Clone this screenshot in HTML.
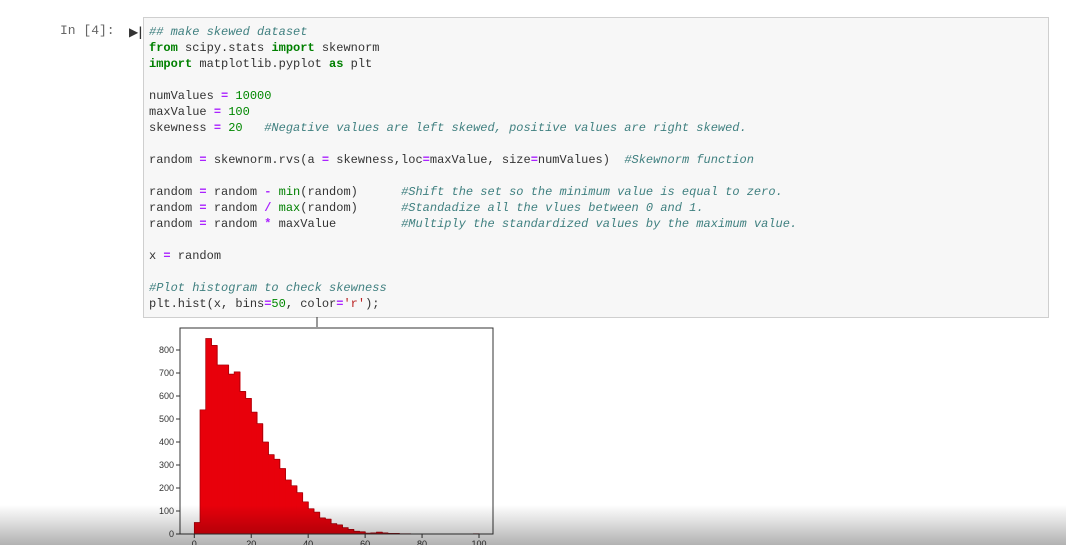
<!DOCTYPE html>
<html><head><meta charset="utf-8"><style>
body{margin:0;width:1066px;height:545px;overflow:hidden;background:#fff;font-family:"Liberation Sans",sans-serif;position:relative}
.prompt{position:absolute;left:60px;top:23px;font:13px "Liberation Mono",monospace;color:#666}
.cell{position:absolute;left:143px;top:17px;width:904px;height:299px;background:#f7f7f7;border:1px solid #cfcfcf}
pre{margin:0;position:absolute;left:5px;top:6px;font:12px/16px "Liberation Mono",monospace;color:#333}
.k{color:#008000;font-weight:bold}.n{color:#080}.c{color:#408080;font-style:italic}.o{color:#a2f;font-weight:bold}.b{color:#008000}.s{color:#ba2121}
.run{position:absolute;left:129px;top:25px;font:bold 12px "DejaVu Sans",sans-serif;color:#333}
.shade{position:absolute;left:0;top:505px;width:1066px;height:40px;background:linear-gradient(rgba(0,0,0,0),rgba(0,0,0,0.3));pointer-events:none}
</style></head><body>
<div class="prompt">In [4]:</div>
<div class="run">▶|</div>
<div class="cell"><pre><span class="c">## make skewed dataset</span>
<span class="k">from</span> scipy.stats <span class="k">import</span> skewnorm
<span class="k">import</span> matplotlib.pyplot <span class="k">as</span> plt

numValues <span class="o">=</span> <span class="n">10000</span>
maxValue <span class="o">=</span> <span class="n">100</span>
skewness <span class="o">=</span> <span class="n">20</span>   <span class="c">#Negative values are left skewed, positive values are right skewed.</span>

random <span class="o">=</span> skewnorm.rvs(a <span class="o">=</span> skewness,loc<span class="o">=</span>maxValue, size<span class="o">=</span>numValues)  <span class="c">#Skewnorm function</span>

random <span class="o">=</span> random <span class="o">-</span> <span class="b">min</span>(random)      <span class="c">#Shift the set so the minimum value is equal to zero.</span>
random <span class="o">=</span> random <span class="o">/</span> <span class="b">max</span>(random)      <span class="c">#Standadize all the vlues between 0 and 1.</span>
random <span class="o">=</span> random <span class="o">*</span> maxValue         <span class="c">#Multiply the standardized values by the maximum value.</span>

x <span class="o">=</span> random

<span class="c">#Plot histogram to check skewness</span>
plt.hist(x, bins<span class="o">=</span><span class="n">50</span>, color<span class="o">=</span><span class="s">'r'</span>);</pre></div>
<svg id="chart" width="1066" height="545" style="position:absolute;left:0;top:0"></svg>
<div class="shade"></div>
<script>
const counts=[50,540,850,820,735,735,695,705,620,590,530,480,400,345,325,285,235,210,180,140,110,95,70,65,45,40,28,20,12,10,4,5,8,5,3,3,1,1,0,0,0,0,0,0,0,0,0,0,0,1];
const binWidth=2;
const yTicks=[0,100,200,300,400,500,600,700,800];
const xTicks=[0,20,40,60,80,100];
const NS="http://www.w3.org/2000/svg";
const svg=document.getElementById('chart');
const X=v=>194.3+v*2.847, Y=v=>534-v*0.23;
function el(t,a){const e=document.createElementNS(NS,t);for(const k in a)e.setAttribute(k,a[k]);svg.appendChild(e);return e;}
let d='M'+X(0)+','+Y(0);
counts.forEach((c,i)=>{d+=' L'+X(i*binWidth)+','+Y(c)+' L'+X((i+1)*binWidth)+','+Y(c);});
d+=' L'+X(counts.length*binWidth)+','+Y(0)+' Z';
counts.forEach((c,i)=>{if(!c)return;const r=el('rect',{x:X(i*binWidth),y:Y(c),width:X(binWidth)-X(0)+0.6,height:Y(0)-Y(c),fill:'#e8000b'});

});
const o=el('path',{d:d,fill:'none',stroke:'#a00008','stroke-width':0.7});


const f=el('rect',{x:180,y:328,width:313,height:206,fill:'none',stroke:'#333','stroke-width':1});


yTicks.forEach(t=>{el('line',{x1:176,x2:180,y1:Y(t),y2:Y(t),stroke:'#333'});
const tx=el('text',{x:174,y:Y(t)+3,'font-size':9,'text-anchor':'end',fill:'#333','font-family':'Liberation Sans'});tx.textContent=t;

});
xTicks.forEach(t=>{el('line',{x1:X(t),x2:X(t),y1:534,y2:538,stroke:'#333'});
const tx=el('text',{x:X(t),y:547,'font-size':9,'text-anchor':'middle',fill:'#333','font-family':'Liberation Sans'});tx.textContent=t;

});
el('line',{x1:317,x2:317,y1:317,y2:327,stroke:'#333'});
</script>
</body></html>
